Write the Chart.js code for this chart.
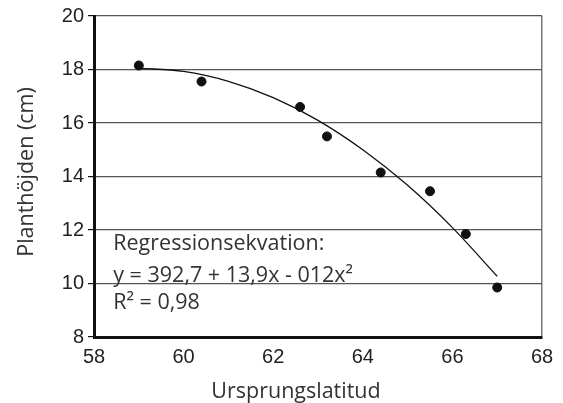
<!DOCTYPE html>
<html>
<head>
<meta charset="utf-8">
<script src="https://cdn.jsdelivr.net/npm/chart.js@4"></script>
<style>
  body { margin: 0; background: #fff; }
</style>
</head>
<body>
<canvas id="chart" width="563" height="403"></canvas>
<script>
// mätpunkter (latitud, planthöjd)
const latitudes = [59.0, 60.4, 62.6, 63.2, 64.4, 65.5, 66.3, 67.0];
const heights = [18.15, 17.55, 16.6, 15.5, 14.15, 13.45, 11.85, 9.85];

// regressionskurvan
const curveX = [59, 60, 61, 62, 63, 64, 65, 66, 67];
const curveY = [18.05, 17.93, 17.56, 16.95, 16.1, 15.0, 13.67, 12.09, 10.27];

const xTicks = [58, 60, 62, 64, 66, 68];
const yTicks = [8, 10, 12, 14, 16, 18, 20];

const xTitle = "Ursprungslatitud";
const yTitle = "Planthöjden (cm)";
const equationLines = ["Regressionsekvation:", "y = 392,7 + 13,9x - 012x²", "R² = 0,98"];

const textFont = "21.5px 'Open Sans'";
const tickFont = { family: "'Liberation Sans', Arial", size: 20 };

// text i diagrammet: ekvation och axeltitlar
const labelsPlugin = {
  id: "labels",
  afterDraw(chart) {
    const { ctx, chartArea, scales } = chart;
    ctx.save();
    ctx.fillStyle = "#333";
    ctx.font = textFont;
    ctx.textAlign = "left";
    ctx.textBaseline = "alphabetic";
    const left = scales.x.getPixelForValue(58.43);
    const lineY = [11.25, 10.06, 9.05];
    equationLines.forEach((line, i) => {
      ctx.fillText(line, left, scales.y.getPixelForValue(lineY[i]));
    });

    ctx.textAlign = "center";
    ctx.fillText(xTitle, chartArea.left + 202, 398);

    ctx.translate(33, chartArea.top + 156);
    ctx.rotate(-Math.PI / 2);
    ctx.fillText(yTitle, 0, 0);
    ctx.restore();
  }
};

const ctx = document.getElementById("chart").getContext("2d");

new Chart(ctx, {
  type: "scatter",
  data: {
    datasets: [
      {
        label: "Regression",
        data: curveX.map((x, i) => ({ x: x, y: curveY[i] })),
        showLine: true,
        borderColor: "#111",
        borderWidth: 1.3,
        pointRadius: 0,
        tension: 0.4,
        cubicInterpolationMode: "monotone",
        fill: false
      },
      {
        label: "Planthöjd",
        data: latitudes.map((x, i) => ({ x: x, y: heights[i] })),
        backgroundColor: "#111",
        borderColor: "#111",
        pointRadius: 4.5,
        pointHoverRadius: 4.5
      }
    ]
  },
  options: {
    responsive: false,
    animation: false,
    layout: { padding: { top: 16, right: 21, bottom: 0, left: 0 } },
    plugins: {
      legend: { display: false },
      tooltip: { enabled: false }
    },
    scales: {
      x: {
        type: "linear",
        min: 58,
        max: 68,
        afterBuildTicks: (scale) => { scale.ticks = xTicks.map(v => ({ value: v })); },
        afterFit: (scale) => { scale.height = 66; },
        border: { color: "#111", width: 3 },
        grid: {
          color: (c) => (c.tick && c.tick.value === 68 ? "#777" : "rgba(0,0,0,0)"),
          lineWidth: 1.5,
          drawTicks: false
        },
        ticks: { color: "#222", font: tickFont, padding: 8 }
      },
      y: {
        min: 8,
        max: 20,
        afterBuildTicks: (scale) => { scale.ticks = yTicks.map(v => ({ value: v })); },
        afterFit: (scale) => { scale.width = 94; },
        border: { color: "#111", width: 3 },
        grid: {
          color: "#555",
          lineWidth: 1.2,
          tickColor: "#111",
          tickLength: 6
        },
        ticks: { color: "#222", font: tickFont, padding: 4 }
      }
    }
  },
  plugins: [labelsPlugin]
});
</script>
</body>
</html>
